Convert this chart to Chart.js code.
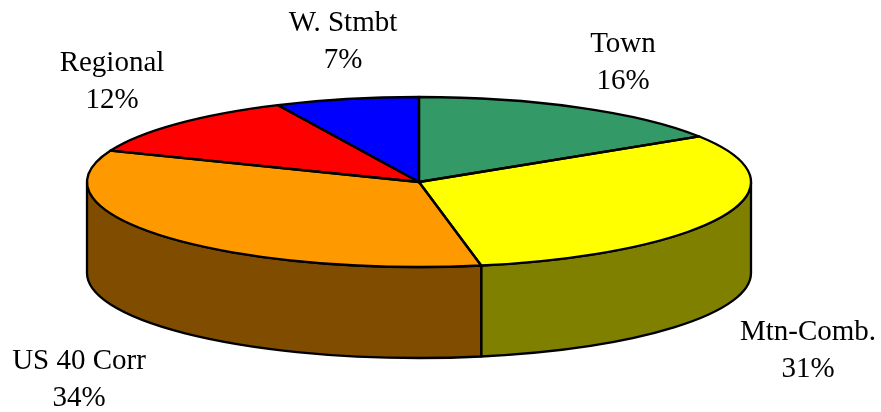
<!DOCTYPE html>
<html>
<head>
<meta charset="utf-8">
<script src="https://cdn.jsdelivr.net/npm/chart.js@4/dist/chart.umd.min.js"></script>
<style>
  html, body { margin: 0; padding: 0; background: #fff; }
  #wrap { width: 881px; height: 412px; position: relative; }
</style>
</head>
<body>
<div id="wrap"><canvas id="pie3d"></canvas></div>
<script>
var categories = ['Town', 'Mtn-Comb.', 'US 40 Corr', 'Regional', 'W. Stmbt'];
var shares = [16, 31, 34, 12, 7];
var pctLabels = ['16%', '31%', '34%', '12%', '7%'];

var topColors = ['#339966', '#ffff00', '#ff9900', '#ff0000', '#0000ff'];

// ellipse of the tilted pie
var geo = { cx: 419, cy: 182, rx: 332, ry: 85, depth: 91 };
// label centres (x) and first-line baselines (y)
var labelPos = [[623, 52], [808, 340], [79, 369], [112, 71], [343, 31]];

function darker(hex) {
  var n = parseInt(hex.slice(1), 16);
  var r = (n >> 16) & 255, g = (n >> 8) & 255, b = n & 255;
  return 'rgb(' + (r >> 1) + ',' + (g >> 1) + ',' + (b >> 1) + ')';
}

var pie3d = {
  id: 'pie3d',
  beforeDatasetsDraw: function(chart) {
    var ctx = chart.ctx;
    var arcs = chart.getDatasetMeta(0).data;
    // side walls on the front half (angles 0..PI)
    ctx.save();
    ctx.lineWidth = 2.3;
    ctx.strokeStyle = '#000';
    ctx.lineJoin = 'round';
    arcs.forEach(function(el, i) {
      var a0 = Math.max(el.startAngle, 0);
      var a1 = Math.min(el.endAngle, Math.PI);
      if (a1 <= a0) return;
      ctx.beginPath();
      ctx.ellipse(geo.cx, geo.cy, geo.rx, geo.ry, 0, a0, a1);
      ctx.lineTo(geo.cx + geo.rx * Math.cos(a1), geo.cy + geo.depth + geo.ry * Math.sin(a1));
      ctx.ellipse(geo.cx, geo.cy + geo.depth, geo.rx, geo.ry, 0, a1, a0, true);
      ctx.closePath();
      ctx.fillStyle = darker(topColors[i]);
      ctx.fill();
      ctx.stroke();
    });
    ctx.restore();
    // squash the library's own pie into the top ellipse
    var el = arcs[0];
    var R = el.outerRadius;
    ctx.save();
    ctx.translate(geo.cx, geo.cy);
    ctx.scale(geo.rx / R, geo.ry / R);
    ctx.translate(-el.x, -el.y);
  },
  afterDatasetsDraw: function(chart) {
    var ctx = chart.ctx;
    ctx.restore();
    var arcs = chart.getDatasetMeta(0).data;
    ctx.save();
    ctx.lineWidth = 2.3;
    ctx.strokeStyle = '#000';
    ctx.lineJoin = 'round';
    arcs.forEach(function(el) {
      ctx.beginPath();
      ctx.moveTo(geo.cx, geo.cy);
      ctx.ellipse(geo.cx, geo.cy, geo.rx, geo.ry, 0, el.startAngle, el.endAngle);
      ctx.closePath();
      ctx.stroke();
    });
    ctx.fillStyle = '#000';
    ctx.font = '29px "Liberation Serif", "Times New Roman", serif';
    ctx.textAlign = 'center';
    ctx.textBaseline = 'alphabetic';
    categories.forEach(function(name, i) {
      var p = labelPos[i];
      ctx.fillText(name, p[0], p[1]);
      ctx.fillText(pctLabels[i], p[0], p[1] + 37);
    });
    ctx.restore();
  }
};

new Chart(document.getElementById('pie3d'), {
  type: 'pie',
  data: {
    labels: categories,
    datasets: [{
      data: shares,
      backgroundColor: topColors,
      borderWidth: 0,
      clip: false
    }]
  },
  options: {
    responsive: true,
    maintainAspectRatio: false,
    animation: false,
    layout: { padding: 0 },
    plugins: {
      legend: { display: false },
      tooltip: { enabled: false }
    }
  },
  plugins: [pie3d]
});
</script>
</body>
</html>
